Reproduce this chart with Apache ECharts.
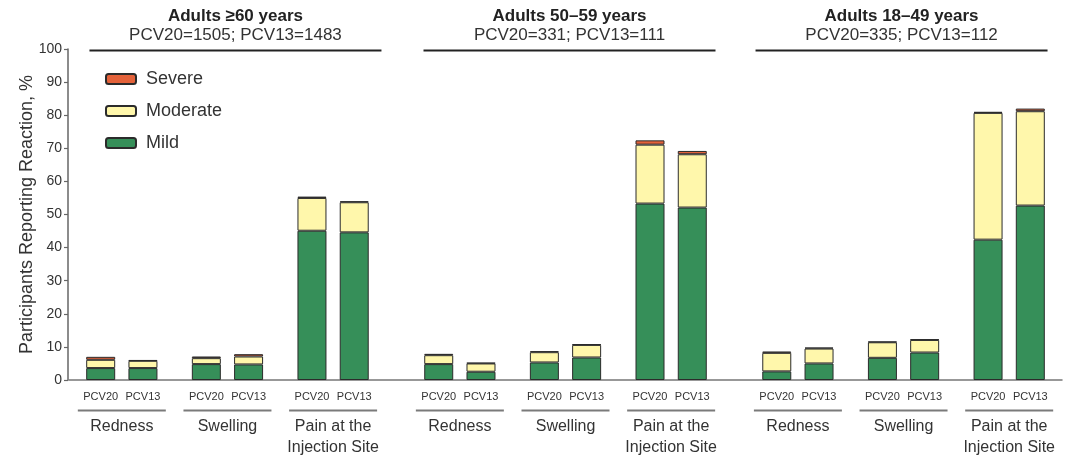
<!DOCTYPE html>
<html>
<head>
<meta charset="utf-8">
<script src="https://cdn.jsdelivr.net/npm/echarts@6/dist/echarts.min.js"></script>
<style>
  html, body { margin: 0; padding: 0; background: #fff; }
  #chart { width: 1068px; height: 455px; }
</style>
</head>
<body>
<div id="chart"></div>
<script>
// Age panels and their sample sizes
const panelTitles = ['Adults \u226560 years', 'Adults 50\u201359 years', 'Adults 18\u201349 years'];
const panelCounts = ['PCV20=1505; PCV13=1483', 'PCV20=331; PCV13=111', 'PCV20=335; PCV13=112'];
// Local reactions within each panel, and the two vaccines within each reaction
const reactions = ['Redness', 'Swelling', 'Pain at the\nInjection Site'];
const vaccines = ['PCV20', 'PCV13'];

// Percent of participants, ordered panel -> reaction -> vaccine
const mild = [
  3.6, 3.6, 4.8, 4.7, 45.1, 44.6,
  4.8, 2.5, 5.3, 6.8, 53.3, 52.1,
  2.6, 5.0, 6.7, 8.3, 42.4, 52.7
];
const moderate = [
  2.5, 2.2, 1.8, 2.4, 9.9, 9.1,
  2.7, 2.5, 3.1, 3.8, 17.8, 16.1,
  5.6, 4.5, 4.7, 3.8, 38.3, 28.5
];
const severe = [
  0.9, 0.2, 0.5, 0.7, 0.4, 0.3,
  0.4, 0.2, 0.3, 0.2, 1.3, 1.0,
  0.4, 0.3, 0.2, 0.2, 0.3, 0.8
];
const yTicks = [0, 10, 20, 30, 40, 50, 60, 70, 80, 90, 100];

// Category slots: bars of a pair sit 2 slots apart, reactions 5 apart, panels 16 apart
const SLOTS = 47;
const slotOf = (p, r, v) => 1 + 16 * p + 5 * r + 2 * v;
const slotNames = Array.from({ length: SLOTS }, (_, i) => 's' + i);
const slotLabels = new Array(SLOTS).fill('');
const mildData = new Array(SLOTS).fill('-');
const modData = new Array(SLOTS).fill('-');
const sevData = new Array(SLOTS).fill('-');
let k = 0;
for (let p = 0; p < panelTitles.length; p++) {
  for (let r = 0; r < reactions.length; r++) {
    for (let v = 0; v < vaccines.length; v++) {
      const s = slotOf(p, r, v);
      slotLabels[s] = vaccines[v];
      mildData[s] = mild[k];
      modData[s] = moderate[k];
      sevData[s] = severe[k];
      k++;
    }
  }
}

const FONT = '"Liberation Sans", Arial, Helvetica, sans-serif';
const border = { borderColor: '#2b2b2b', borderWidth: 1 };
const barCommon = { type: 'bar', stack: 'total', barWidth: 29, emphasis: { disabled: true } };

const chart = echarts.init(document.getElementById('chart'), null, { renderer: 'canvas' });
chart.setOption({
  animation: false,
  textStyle: { fontFamily: FONT },
  grid: { left: 69, right: 6, top: 49, bottom: 75, containLabel: false },
  legend: {
    orient: 'vertical',
    left: 100,
    top: 65,
    itemWidth: 30,
    itemHeight: 10,
    itemGap: 14,
    data: ['Severe', 'Moderate', 'Mild'],
    textStyle: { fontSize: 18, color: '#333', fontFamily: FONT, padding: [0, 0, 0, 5] },
    selectedMode: false
  },
  xAxis: {
    type: 'category',
    data: slotNames,
    axisLine: { lineStyle: { color: '#777', width: 1.5 } },
    axisTick: { show: false },
    axisLabel: {
      interval: 0,
      fontSize: 11,
      color: '#333',
      margin: 11,
      fontFamily: FONT,
      formatter: (val, idx) => slotLabels[idx]
    }
  },
  yAxis: {
    type: 'value',
    min: yTicks[0],
    max: yTicks[yTicks.length - 1],
    interval: 10,
    offset: 1,
    name: 'Participants Reporting Reaction, %',
    nameLocation: 'middle',
    nameGap: 32,
    nameMoveOverlap: false,
    nameTextStyle: { fontSize: 18, color: '#333', fontFamily: FONT },
    splitLine: { show: false },
    axisLine: { show: true, lineStyle: { color: '#666', width: 1.5 } },
    axisTick: { show: true, length: 4, lineStyle: { color: '#666', width: 1.2 } },
    axisLabel: { fontSize: 14, color: '#333', margin: 6, fontFamily: FONT }
  },
  series: [
    Object.assign({}, barCommon, { name: 'Mild', data: mildData, itemStyle: Object.assign({ color: '#368f59' }, border) }),
    Object.assign({}, barCommon, { name: 'Moderate', data: modData, itemStyle: Object.assign({ color: '#fff7ab' }, border) }),
    Object.assign({}, barCommon, { name: 'Severe', data: sevData, itemStyle: Object.assign({ color: '#e4623a' }, border) })
  ]
});

// Panel headers and reaction labels, placed from the category axis pixels
const px = (slot) => chart.convertToPixel({ xAxisIndex: 0 }, slot);
const headerShift = [8, 4, -2];
const elements = [];
for (let p = 0; p < panelTitles.length; p++) {
  const left = px(slotOf(p, 0, 0));
  const right = px(slotOf(p, reactions.length - 1, vaccines.length - 1));
  const cx = (left + right) / 2 + headerShift[p];
  elements.push({
    type: 'text', x: cx, y: 16, silent: true,
    style: { text: panelTitles[p], font: 'bold 17px ' + FONT, fill: '#222', align: 'center', verticalAlign: 'middle' }
  });
  elements.push({
    type: 'text', x: cx, y: 35, silent: true,
    style: { text: panelCounts[p], font: '17px ' + FONT, fill: '#333', align: 'center', verticalAlign: 'middle' }
  });
  elements.push({
    type: 'line', silent: true,
    shape: { x1: cx - 146, y1: 50.5, x2: cx + 146, y2: 50.5 },
    style: { stroke: '#222', lineWidth: 2.2 }
  });
  for (let r = 0; r < reactions.length; r++) {
    const gx = (px(slotOf(p, r, 0)) + px(slotOf(p, r, 1))) / 2;
    elements.push({
      type: 'line', silent: true,
      shape: { x1: gx - 44, y1: 410.5, x2: gx + 44, y2: 410.5 },
      style: { stroke: '#7a7a7a', lineWidth: 2 }
    });
    elements.push({
      type: 'text', x: gx, y: 416.5, silent: true,
      style: { text: reactions[r], font: '16px ' + FONT, fill: '#333', align: 'center', verticalAlign: 'top', lineHeight: 20.5 }
    });
  }
}
chart.setOption({ graphic: { elements: elements } });
</script>
</body>
</html>
